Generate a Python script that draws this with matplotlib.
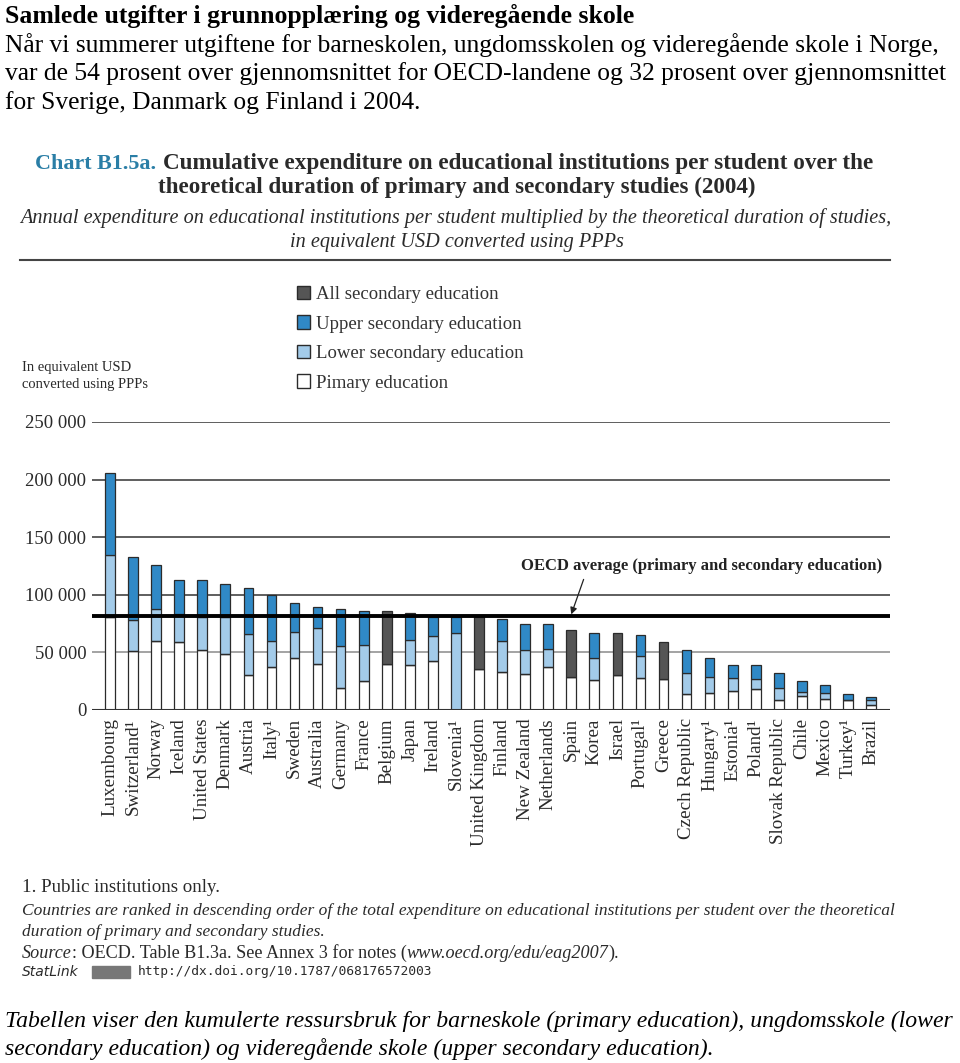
import numpy as np
import matplotlib.pyplot as plt
from matplotlib.patches import Patch

plt.rcParams['font.family'] = ['Liberation Serif', 'DejaVu Serif']

countries = ["Luxembourg", "Switzerland¹", "Norway", "Iceland", "United States", "Denmark",
             "Austria", "Italy¹", "Sweden", "Australia", "Germany", "France", "Belgium",
             "Japan", "Ireland", "Slovenia¹", "United Kingdom", "Finland", "New Zealand",
             "Netherlands", "Spain", "Korea", "Israel", "Portugal¹", "Greece",
             "Czech Republic", "Hungary¹", "Estonia¹", "Poland¹", "Slovak Republic",
             "Chile", "Mexico", "Turkey¹", "Brazil"]

# values in thousand USD (segment heights)
primary = [80.8, 51.5, 59.6, 58.7, 51.8, 48.5, 30.0, 36.9, 44.8, 39.5, 18.9, 25.0, 39.5,
           39.0, 42.7, 0.0, 35.5, 33.1, 31.1, 36.9, 29.0, 26.4, 30.8, 28.2, 27.0,
           13.6, 14.5, 16.8, 18.0, 8.4, 12.5, 9.8, 8.7, 4.4]
lower = [53.8, 27.0, 28.4, 25.0, 29.2, 32.5, 36.0, 22.7, 22.7, 32.0, 36.9, 31.4, 0.0,
         22.0, 21.3, 66.8, 0.0, 26.5, 21.2, 16.0, 0.0, 18.4, 0.0, 18.6, 0.0,
         18.9, 14.0, 11.1, 9.0, 11.0, 3.5, 4.7, 0.0, 4.3]
upper = [71.2, 54.4, 37.6, 29.3, 31.5, 28.6, 40.0, 39.8, 25.2, 17.8, 31.7, 29.6, 0.0,
         23.6, 17.0, 14.2, 0.0, 19.8, 22.1, 21.5, 0.0, 22.4, 0.0, 18.3, 0.0,
         19.8, 16.5, 11.3, 12.2, 13.1, 9.0, 7.5, 5.5, 2.6]
all_secondary = [0, 0, 0, 0, 0, 0, 0, 0, 0, 0, 0, 0, 46.5,
                 0, 0, 0, 45.5, 0, 0, 0, 40.8, 0, 36.4, 0, 32.0,
                 0, 0, 0, 0, 0, 0, 0, 0, 0]
oecd_avg = 81.5
yticks = [0, 50, 100, 150, 200, 250]
ytick_labels = ["0", "50 000", "100 000", "150 000", "200 000", "250 000"]

c_upper = "#3089c6"
c_lower = "#a3cbe9"
c_all = "#555555"
edge = "#2b2b2b"
txt = "#2a2a2a"

fig = plt.figure(figsize=(9.6, 10.63), dpi=100)
W, H = 960, 1063
def fx(px): return px / W
def fy(py): return 1 - py / H

ax = fig.add_axes([fx(92), fy(710), fx(890) - fx(92), fy(422) - fy(710)])
x = np.arange(len(countries))
p = np.array(primary); lo = np.array(lower); up = np.array(upper); al = np.array(all_secondary)
bw = 0.42
ax.bar(x, p, bw, color="white", edgecolor=edge, lw=0.9, zorder=2)
ax.bar(x, lo, bw, bottom=p, color=c_lower, edgecolor=edge, lw=0.9, zorder=2)
ax.bar(x, up, bw, bottom=p + lo, color=c_upper, edgecolor=edge, lw=0.9, zorder=2)
ax.bar(x, al, bw, bottom=p, color=c_all, edgecolor=edge, lw=0.9, zorder=2)

ax.set_xlim(-0.78, len(countries) - 1 + 0.82)
ax.set_ylim(0, 250)
ax.set_yticks(yticks)
ax.set_yticklabels(ytick_labels, fontsize=13.5, color=txt)
for yv in yticks[1:]:
    ax.axhline(yv, color="#8a8a8a" if yv == 50 else "#333333", lw=1.1, zorder=1)
ax.axhline(0, color="#333333", lw=1.5, zorder=3)
ax.axhline(oecd_avg, color="black", lw=2.8, zorder=4)
ax.set_xticks(x)
ax.set_xticklabels(countries, rotation=90, fontsize=13.7, va="top", color=txt)
ax.tick_params(length=0, pad=6)
ax.tick_params(axis="y", pad=4)
for s in ax.spines.values():
    s.set_visible(False)

ax.annotate("OECD average (primary and secondary education)",
            xy=(20.0, oecd_avg + 1.5), xytext=(17.8, 125),
            fontsize=12, fontweight="bold", color="#222222", ha="left", va="center",
            arrowprops=dict(arrowstyle="-|>", color="#222222", lw=0.9,
                            shrinkA=2, shrinkB=0, mutation_scale=10,
                            relpos=(0.18, 0.0)))

# legend
handles = [Patch(facecolor=c_all, edgecolor=edge, label="All secondary education"),
           Patch(facecolor=c_upper, edgecolor=edge, label="Upper secondary education"),
           Patch(facecolor=c_lower, edgecolor=edge, label="Lower secondary education"),
           Patch(facecolor="white", edgecolor=edge, label="Pimary education")]
fig.legend(handles=handles, loc="upper left", bbox_to_anchor=(fx(280), fy(269)),
           frameon=False, fontsize=13.5, handlelength=0.7, handleheight=0.7,
           handletextpad=0.3, labelspacing=0.66, labelcolor="#333333")

# header text (Norwegian)
fig.text(fx(5), fy(16), "Samlede utgifter i grunnopplæring og videregående skole",
         fontsize=18.5, fontweight="bold", va="center")
lines = ["Når vi summerer utgiftene for barneskolen, ungdomsskolen og videregående skole i Norge,",
         "var de 54 prosent over gjennomsnittet for OECD-landene og 32 prosent over gjennomsnittet",
         "for Sverige, Danmark og Finland i 2004."]
for i, t in enumerate(lines):
    fig.text(fx(5), fy(45 + 29 * i), t, fontsize=18.4, va="center")

# chart title
fig.text(fx(35), fy(164), "Chart B1.5a.", fontsize=15.8, fontweight="bold", color="#2a7ea6", va="center")
fig.text(fx(163), fy(164), "Cumulative expenditure on educational institutions per student over the",
         fontsize=16.7, fontweight="bold", color=txt, va="center")
fig.text(fx(457), fy(187), "theoretical duration of primary and secondary studies (2004)",
         fontsize=16.6, fontweight="bold", color=txt, va="center", ha="center")
fig.text(fx(456), fy(218), "Annual expenditure on educational institutions per student multiplied by the theoretical duration of studies,",
         fontsize=14.6, style="italic", color=txt, va="center", ha="center")
fig.text(fx(457), fy(243), "in equivalent USD converted using PPPs",
         fontsize=14.6, style="italic", color=txt, va="center", ha="center")
fig.add_artist(plt.Line2D([fx(20), fx(890)], [fy(260), fy(260)], color="#444444", lw=1.5))

fig.text(fx(22), fy(368), "In equivalent USD", fontsize=10.5, color=txt, va="center")
fig.text(fx(22), fy(385), "converted using PPPs", fontsize=10.5, color=txt, va="center")

# footnotes
fig.text(fx(22), fy(888), "1. Public institutions only.", fontsize=13.6, color=txt, va="center")
fig.text(fx(22), fy(911), "Countries are ranked in descending order of the total expenditure on educational institutions per student over the theoretical",
         fontsize=12.5, style="italic", color=txt, va="center")
fig.text(fx(22), fy(932), "duration of primary and secondary studies.",
         fontsize=12.5, style="italic", color=txt, va="center")

renderer = fig.canvas.get_renderer()
xpos = 22
for part, sty in [("Source", "italic"), (": OECD. Table B1.3a. See Annex 3 for notes (", "normal"),
                  ("www.oecd.org/edu/eag2007", "italic"), (").", "normal")]:
    t = fig.text(fx(xpos), fy(953), part, fontsize=13.1, style=sty, color=txt, va="center")
    xpos += t.get_window_extent(renderer).width

fig.text(fx(22), fy(972), "StatLink", fontsize=10, style="italic", family="DejaVu Sans", color=txt, va="center")
fig.add_artist(plt.Rectangle((fx(92), fy(978)), fx(38), 12 / H, color="#777777"))
fig.text(fx(138), fy(972), "http://dx.doi.org/10.1787/068176572003", fontsize=9.3,
         family="DejaVu Sans Mono", color=txt, va="center")

fig.text(fx(5), fy(1021), "Tabellen viser den kumulerte ressursbruk for barneskole (primary education), ungdomsskole (lower",
         fontsize=17.1, style="italic", va="center")
fig.text(fx(5), fy(1049), "secondary education) og videregående skole (upper secondary education).",
         fontsize=17.1, style="italic", va="center")

fig.savefig("out.png", dpi=100)
